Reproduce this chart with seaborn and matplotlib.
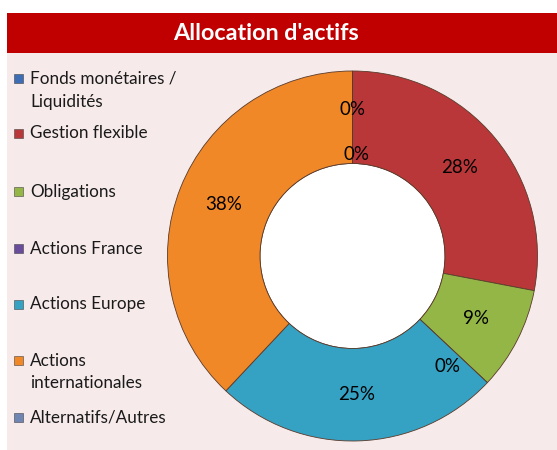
import matplotlib
matplotlib.use("Agg")
import matplotlib.pyplot as plt
import matplotlib.patches as mpatches
import numpy as np
import seaborn as sns

# Data
categories = ["Fonds monétaires /\nLiquidités", "Gestion flexible", "Obligations",
              "Actions France", "Actions Europe", "Actions\ninternationales",
              "Alternatifs/Autres"]
shares = [0, 28, 9, 0, 25, 38, 0]
colors = ["#3D6DB5", "#BA3739", "#93B646", "#6A4C9C", "#35A2C4", "#F08828", "#6F86B3"]
title = "Allocation d'actifs"

sns.set_style("white")
plt.rcParams['font.family'] = ['Lato', 'DejaVu Sans']

W, H = 557, 450
fig = plt.figure(figsize=(W / 100, H / 100), dpi=100)
fig.patch.set_facecolor("white")

# background axes in pixel coords (y down)
bg = fig.add_axes([0, 0, 1, 1], zorder=-1)
bg.set_xlim(0, W)
bg.set_ylim(H, 0)
bg.axis("off")
bg.add_patch(mpatches.Rectangle((7, 53), W - 7, H - 53, facecolor="#F6EAEA", edgecolor="none"))
bg.add_patch(mpatches.Rectangle((7, 13), W - 7, 40, facecolor="#C00000", edgecolor="none"))
bg.text(266, 33, title, color="white", fontsize=16.8, fontweight="bold",
        ha="center", va="center")

palette = sns.color_palette(colors)

# Legend, laid out like the Excel one
line_y = [[78, 101], [133], [191], [248], [304], [360, 383], [417]]
for lab, col, ys in zip(categories, palette, line_y):
    bg.add_patch(mpatches.Rectangle((14, ys[0] - 4.5), 9, 9, facecolor=col,
                                    edgecolor="#444444", linewidth=0.4))
    for line, y in zip(lab.split("\n"), ys):
        bg.text(30, y + 5.5, line, fontsize=12.3, color="#1a1a1a",
                ha="left", va="baseline")

# Donut
cx, cy, r = 352.5, 256, 185
ax = fig.add_axes([(cx - r) / W, 1 - (cy + r) / H, 2 * r / W, 2 * r / H])
ax.set_facecolor("none")
wedges, texts, autotexts = ax.pie(
    shares, colors=palette, startangle=90, counterclock=False,
    autopct="%1.0f%%", pctdistance=0.75,
    wedgeprops=dict(width=0.5, edgecolor="#5a3a2a", linewidth=0.6),
    textprops=dict(fontsize=13.5, color="black"))
ax.add_patch(mpatches.Circle((0, 0), 0.5, facecolor="white", edgecolor="#5a3a2a",
                             linewidth=0.6, zorder=0))
ax.set_xlim(-1, 1)
ax.set_ylim(-1, 1)

# Excel nudges the zero-value labels apart
nudge = {0: (0.79, 0), 3: (0.79, 6), 6: (0.55, 2)}
for i, (w, t) in enumerate(zip(wedges, autotexts)):
    if i in nudge:
        d, off = nudge[i]
        ang = np.deg2rad((w.theta1 + w.theta2) / 2 - off)
        t.set_position((d * np.cos(ang), d * np.sin(ang)))

fig.savefig("out.png", dpi=100, facecolor=fig.get_facecolor())
